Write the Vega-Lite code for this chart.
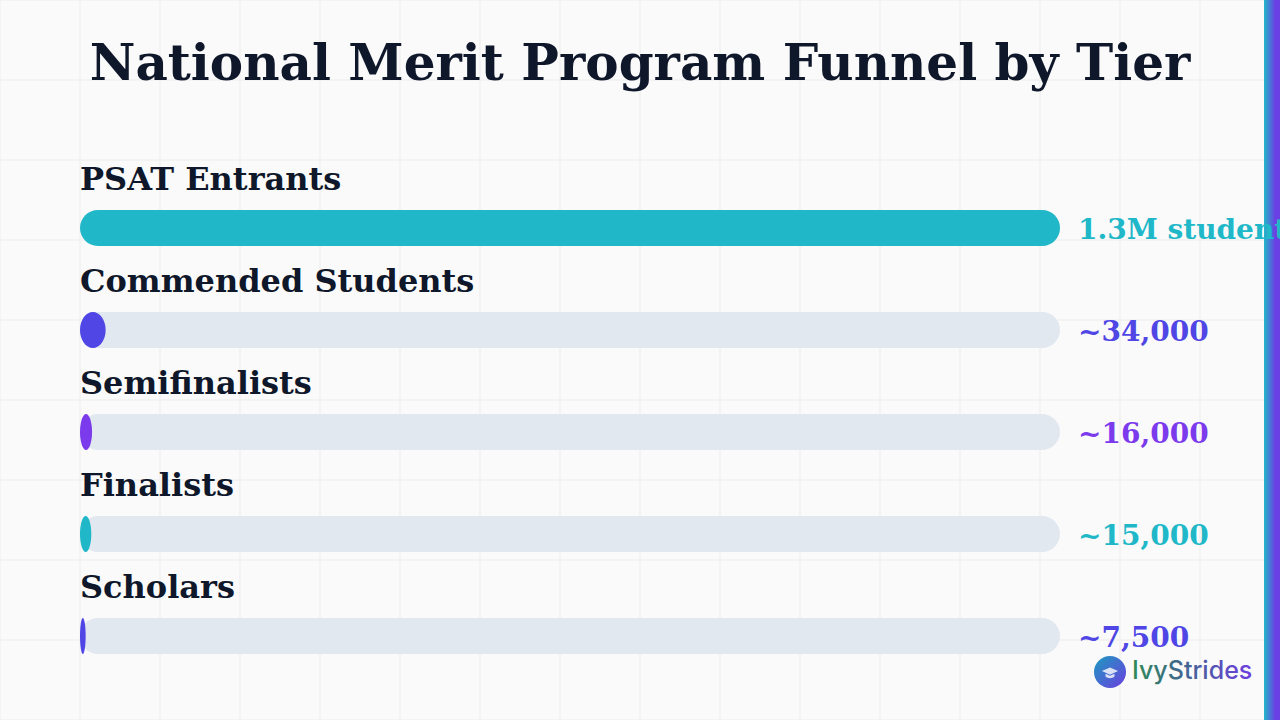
{"$schema":"https://vega.github.io/schema/vega-lite/v6.json","width":1280,"height":720,"padding":0,"autosize":{"type":"none"},"background":"#fafafa","title":{"text":"National Merit Program Funnel by Tier","font":"DejaVu Serif","fontSize":50,"fontWeight":"bold","color":"#0f172a","anchor":"middle","frame":"group","orient":"top","offset":-131,"baseline":"alphabetic"},"config":{"view":{"stroke":null}},"datasets":{"tiers":[{"tier":"PSAT Entrants","value":1300000,"label":"1.3M students"},{"tier":"Commended Students","value":34000,"label":"~34,000"},{"tier":"Semifinalists","value":16000,"label":"~16,000"},{"tier":"Finalists","value":15000,"label":"~15,000"},{"tier":"Scholars","value":7500,"label":"~7,500"}],"gx":[{"g":0},{"g":1},{"g":2},{"g":3},{"g":4},{"g":5},{"g":6},{"g":7},{"g":8},{"g":9},{"g":10},{"g":11},{"g":12},{"g":13},{"g":14},{"g":15},{"g":16}],"gy":[{"g":0},{"g":1},{"g":2},{"g":3},{"g":4},{"g":5},{"g":6},{"g":7},{"g":8},{"g":9}],"logo":[{"name":"IvyStrides"}]},"resolve":{"scale":{"x":"independent","y":"independent"}},"layer":[{"data":{"name":"gx"},"mark":{"type":"rule","stroke":"#f3f3f4","strokeWidth":2},"encoding":{"x":{"field":"g","type":"quantitative","scale":{"domain":[0,16],"range":[0,1280],"nice":false,"zero":false},"axis":null}}},{"data":{"name":"gy"},"mark":{"type":"rule","stroke":"#f3f3f4","strokeWidth":2},"encoding":{"y":{"field":"g","type":"quantitative","scale":{"domain":[0,9],"range":[0,720],"nice":false,"zero":false},"axis":null}}},{"data":{"name":"logo"},"mark":{"type":"rect","fill":{"gradient":"linear","x1":0,"y1":0,"x2":1,"y2":0,"stops":[{"offset":0,"color":"#20b8c9"},{"offset":0.7,"color":"#6a3fe3"},{"offset":1,"color":"#6a3fe3"}]}},"encoding":{"x":{"datum":15.8,"type":"quantitative","scale":{"domain":[0,16],"range":[0,1280],"nice":false,"zero":false},"axis":null},"x2":{"datum":16},"y":{"datum":0,"type":"quantitative","scale":{"domain":[0,9],"range":[0,720],"nice":false,"zero":false},"axis":null},"y2":{"datum":9}}},{"data":{"name":"tiers"},"mark":{"type":"bar","size":36,"cornerRadius":18,"color":"#e2e8f0"},"encoding":{"y":{"field":"tier","type":"nominal","sort":null,"scale":{"domain":["PSAT Entrants","Commended Students","Semifinalists","Finalists","Scholars"],"range":[177,687],"paddingInner":0,"paddingOuter":0},"axis":null},"x":{"datum":0,"type":"quantitative","scale":{"domain":[-106122.4,1591836.7],"range":[0,1280],"nice":false,"zero":false},"axis":null},"x2":{"datum":1300000}}},{"data":{"name":"tiers"},"transform":[{"filter":{"field":"tier","equal":"PSAT Entrants"}}],"mark":{"type":"bar","size":36,"cornerRadius":18,"color":"#20b8c9"},"encoding":{"y":{"field":"tier","type":"nominal","sort":null,"scale":{"domain":["PSAT Entrants","Commended Students","Semifinalists","Finalists","Scholars"],"range":[177,687],"paddingInner":0,"paddingOuter":0},"axis":null},"x":{"field":"value","type":"quantitative","scale":{"domain":[-106122.4,1591836.7],"range":[0,1280],"nice":false},"axis":null}}},{"data":{"name":"tiers"},"transform":[{"filter":{"field":"tier","oneOf":["Commended Students","Semifinalists","Finalists","Scholars"]}}],"mark":{"type":"point","filled":true,"opacity":1,"size":1296},"encoding":{"y":{"field":"tier","type":"nominal","sort":null,"scale":{"domain":["PSAT Entrants","Commended Students","Semifinalists","Finalists","Scholars"],"range":[177,687],"paddingInner":0,"paddingOuter":0},"axis":null},"x":{"field":"value","type":"quantitative","scale":{"domain":[-106122.4,1591836.7],"range":[0,1280],"nice":false,"zero":false},"axis":null},"shape":{"field":"tier","type":"nominal","legend":null,"scale":{"domain":["Commended Students","Semifinalists","Finalists","Scholars"],"range":["M0,0C0,0.5523 -0.3201,1 -0.712,1C-1.1039,1 -1.424,0.5523 -1.424,0C-1.424,-0.5523 -1.1039,-1 -0.712,-1C-0.3201,-1 0,-0.5523 0,0Z","M0,0C0,0.5523 -0.1507,1 -0.335,1C-0.5193,1 -0.67,0.5523 -0.67,0C-0.67,-0.5523 -0.5193,-1 -0.335,-1C-0.1507,-1 0,-0.5523 0,0Z","M0,0C0,0.5523 -0.1413,1 -0.314,1C-0.4867,1 -0.628,0.5523 -0.628,0C-0.628,-0.5523 -0.4867,-1 -0.314,-1C-0.1413,-1 0,-0.5523 0,0Z","M0,0C0,0.5523 -0.0707,1 -0.157,1C-0.2433,1 -0.314,0.5523 -0.314,0C-0.314,-0.5523 -0.2433,-1 -0.157,-1C-0.0707,-1 0,-0.5523 0,0Z"]}},"color":{"field":"tier","type":"nominal","legend":null,"scale":{"domain":["PSAT Entrants","Commended Students","Semifinalists","Finalists","Scholars"],"range":["#20b8c9","#4f46e5","#7c3aed","#20b8c9","#4f46e5"]}}}},{"data":{"name":"tiers"},"mark":{"type":"text","align":"left","baseline":"alphabetic","dy":-38,"font":"DejaVu Serif","fontSize":32,"fontWeight":"bold","color":"#0f172a"},"encoding":{"y":{"field":"tier","type":"nominal","sort":null,"scale":{"domain":["PSAT Entrants","Commended Students","Semifinalists","Finalists","Scholars"],"range":[177,687],"paddingInner":0,"paddingOuter":0},"axis":null},"x":{"datum":0,"type":"quantitative","scale":{"domain":[-106122.4,1591836.7],"range":[0,1280],"nice":false,"zero":false},"axis":null},"text":{"field":"tier","type":"nominal"}}},{"data":{"name":"tiers"},"mark":{"type":"text","align":"left","baseline":"alphabetic","dx":18,"dy":11,"font":"DejaVu Serif","fontSize":28,"fontWeight":"bold"},"encoding":{"y":{"field":"tier","type":"nominal","sort":null,"scale":{"domain":["PSAT Entrants","Commended Students","Semifinalists","Finalists","Scholars"],"range":[177,687],"paddingInner":0,"paddingOuter":0},"axis":null},"x":{"datum":1300000,"type":"quantitative","scale":{"domain":[-106122.4,1591836.7],"range":[0,1280],"nice":false,"zero":false},"axis":null},"text":{"field":"label","type":"nominal"},"color":{"field":"tier","type":"nominal","legend":null,"scale":{"domain":["PSAT Entrants","Commended Students","Semifinalists","Finalists","Scholars"],"range":["#20b8c9","#4f46e5","#7c3aed","#20b8c9","#4f46e5"]}}}},{"data":{"name":"logo"},"mark":{"type":"point","filled":true,"opacity":1,"size":1024,"shape":"circle","fill":{"gradient":"linear","x1":0,"y1":0,"x2":1,"y2":1,"stops":[{"offset":0,"color":"#1a9bbf"},{"offset":1,"color":"#6d3ee0"}]}},"encoding":{"x":{"datum":13.875,"type":"quantitative","scale":{"domain":[0,16],"range":[0,1280],"nice":false,"zero":false},"axis":null},"y":{"datum":8.4,"type":"quantitative","scale":{"domain":[0,9],"range":[0,720],"nice":false,"zero":false},"axis":null}}},{"data":{"name":"logo"},"mark":{"type":"point","filled":true,"opacity":0.8,"size":324,"fill":"#ffffff","shape":"M-0.9,-0.1L0,-0.5L0.9,-0.1L0,0.3ZM-0.5,0.2L0,0.42L0.5,0.2L0.5,0.5C0.25,0.75 -0.25,0.75 -0.5,0.5Z"},"encoding":{"x":{"datum":13.875,"type":"quantitative","scale":{"domain":[0,16],"range":[0,1280],"nice":false,"zero":false},"axis":null},"y":{"datum":8.4,"type":"quantitative","scale":{"domain":[0,9],"range":[0,720],"nice":false,"zero":false},"axis":null}}},{"data":{"name":"logo"},"mark":{"type":"text","align":"left","baseline":"middle","dx":22,"dy":-1,"font":"Inter","fontSize":25,"fontWeight":500,"letterSpacing":-2,"fill":{"gradient":"linear","x1":0,"y1":0,"x2":1,"y2":0,"stops":[{"offset":0,"color":"#2e8b57"},{"offset":0.5,"color":"#45609a"},{"offset":1,"color":"#6d3ee0"}]}},"encoding":{"x":{"datum":13.875,"type":"quantitative","scale":{"domain":[0,16],"range":[0,1280],"nice":false,"zero":false},"axis":null},"y":{"datum":8.4,"type":"quantitative","scale":{"domain":[0,9],"range":[0,720],"nice":false,"zero":false},"axis":null},"text":{"field":"name","type":"nominal"}}}]}
